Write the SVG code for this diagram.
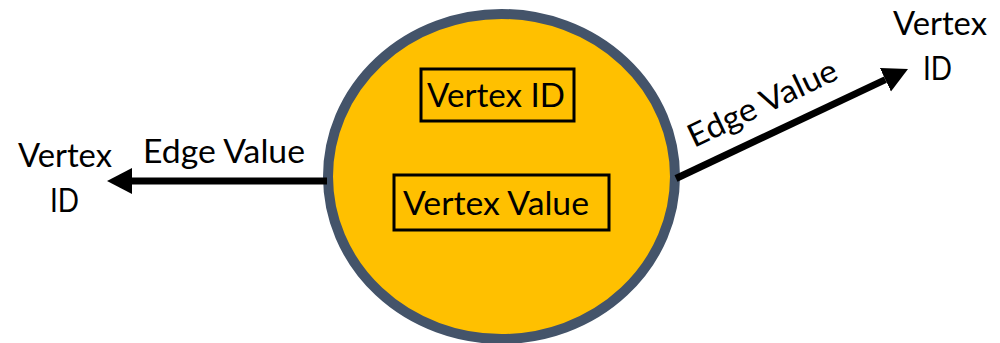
<svg xmlns="http://www.w3.org/2000/svg" width="1000" height="343" viewBox="0 0 1000 343">
  <style>
    text { font-family: Lato, "Open Sans", "Liberation Sans", sans-serif; font-size: 32px; fill: #000; }
    .edge { stroke: #000; stroke-width: 7; fill: none; }
    .box { fill: none; stroke: #000; stroke-width: 3; }
  </style>
  <defs>
    <marker id="head" markerUnits="userSpaceOnUse" markerWidth="26" markerHeight="27" refX="0" refY="13" orient="auto">
      <path d="M0,0 L25,13 L0,26 Z" fill="#000"/>
    </marker>
  </defs>

  <!-- vertex -->
  <g id="vertex">
    <ellipse cx="501.5" cy="176.5" rx="173.5" ry="162.5" fill="#FFC000" stroke="#44546A" stroke-width="10"/>
    <rect class="box" x="421" y="69" width="153" height="52"/>
    <text x="427" y="107" textLength="138" lengthAdjust="spacingAndGlyphs">Vertex ID</text>
    <rect class="box" x="394" y="175" width="215" height="55"/>
    <text x="403" y="215" textLength="186" lengthAdjust="spacingAndGlyphs">Vertex Value</text>
  </g>

  <!-- neighbouring vertex on the left -->
  <g id="vertex-left">
    <text x="18" y="167" textLength="94" lengthAdjust="spacingAndGlyphs">Vertex</text>
    <text x="50" y="212" textLength="29" lengthAdjust="spacingAndGlyphs">ID</text>
  </g>

  <!-- neighbouring vertex on the right -->
  <g id="vertex-right">
    <text x="893" y="35" textLength="94" lengthAdjust="spacingAndGlyphs">Vertex</text>
    <text x="923" y="80" textLength="29" lengthAdjust="spacingAndGlyphs">ID</text>
  </g>

  <!-- edges -->
  <g id="edges">
    <line class="edge" x1="327" y1="181" x2="132" y2="181" marker-end="url(#head)"/>
    <text x="143" y="163" textLength="162" lengthAdjust="spacingAndGlyphs">Edge Value</text>
    <line class="edge" x1="676" y1="178.5" x2="885.4" y2="79.7" marker-end="url(#head)"/>
    <text transform="translate(694,148) rotate(-25.5)" textLength="162" lengthAdjust="spacingAndGlyphs">Edge Value</text>
  </g>
</svg>
